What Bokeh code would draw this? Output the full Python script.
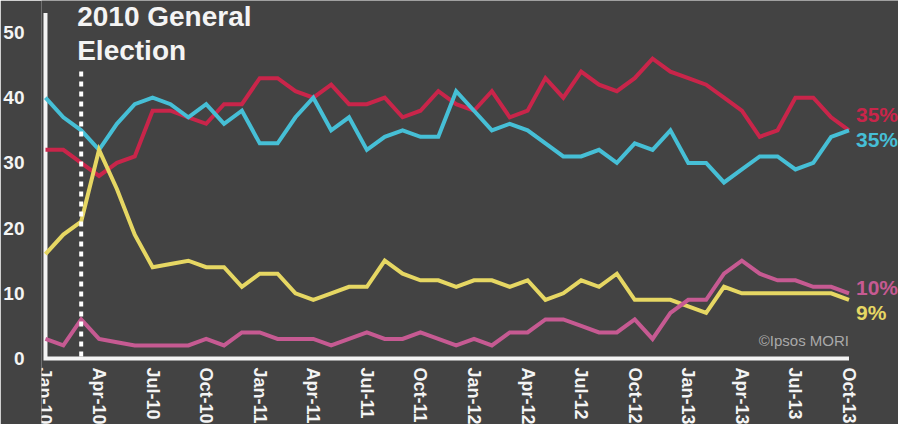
import math
from bokeh.plotting import figure
from bokeh.models import Range1d, FixedTicker, Label
from bokeh.core.properties import value
from bokeh.embed import file_html
from bokeh.resources import INLINE

# ---- data -------------------------------------------------------------
months = [
    "Jan-10", "Feb-10", "Mar-10", "Apr-10", "May-10", "Jun-10", "Jul-10", "Aug-10", "Sep-10", "Oct-10", "Nov-10", "Dec-10",
    "Jan-11", "Feb-11", "Mar-11", "Apr-11", "May-11", "Jun-11", "Jul-11", "Aug-11", "Sep-11", "Oct-11", "Nov-11", "Dec-11",
    "Jan-12", "Feb-12", "Mar-12", "Apr-12", "May-12", "Jun-12", "Jul-12", "Aug-12", "Sep-12", "Oct-12", "Nov-12", "Dec-12",
    "Jan-13", "Feb-13", "Mar-13", "Apr-13", "May-13", "Jun-13", "Jul-13", "Aug-13", "Sep-13", "Oct-13",
]
tick_labels = ["Jan-10", "Apr-10", "Jul-10", "Oct-10", "Jan-11", "Apr-11", "Jul-11", "Oct-11",
               "Jan-12", "Apr-12", "Jul-12", "Oct-12", "Jan-13", "Apr-13", "Jul-13", "Oct-13"]
y_ticks = [0, 10, 20, 30, 40, 50]

labour = [32, 32, 30, 28, 30, 31, 38, 38, 37, 36, 39, 39,
          43, 43, 41, 40, 42, 39, 39, 40, 37, 38, 41, 39,
          38, 41, 37, 38, 43, 40, 44, 42, 41, 43, 46, 44,
          43, 42, 40, 38, 34, 35, 40, 40, 37, 35]
conservative = [40, 37, 35, 32, 36, 39, 40, 39, 37, 39, 36, 38,
                33, 33, 37, 40, 35, 37, 32, 34, 35, 34, 34, 41,
                38, 35, 36, 35, 33, 31, 31, 32, 30, 33, 32, 35,
                30, 30, 27, 29, 31, 31, 29, 30, 34, 35]
libdem = [16, 19, 21, 32, 26, 19, 14, 14.5, 15, 14, 14, 11,
          13, 13, 10, 9, 10, 11, 11, 15, 13, 12, 12, 11,
          12, 12, 11, 12, 9, 10, 12, 11, 13, 9, 9, 9,
          8, 7, 11, 10, 10, 10, 10, 10, 10, 9]
ukip = [3, 2, 6, 3, 2.5, 2, 2, 2, 2, 3, 2, 4,
        4, 3, 3, 3, 2, 3, 4, 3, 3, 4, 3, 2,
        3, 2, 4, 4, 6, 6, 5, 4, 4, 6, 3, 7,
        9, 9, 13, 15, 13, 12, 12, 11, 11, 10]

election_month = "Mar-10"
title_lines = ["2010 General", "Election"]
credit = "\u00a9Ipsos MORI"

# ---- style ------------------------------------------------------------
BG = "#434343"
WHITE = "#f4f4f4"
RED = "#c9254a"
CYAN = "#46bfd6"
YELLOW = "#e6d763"
PINK = "#c65a92"
FONT = "Liberation Sans"

x = list(range(len(months)))
last = len(months) - 1

# frame: left edge at 36px, covers the rest of the canvas
PX_X = 17.96   # px per month
PX_Y = 6.52    # px per point
X0_PX = 4      # px from frame left to Jan-10
Y0_PX = 358    # px from top to value 0
W, H, LEFT = 898, 424, 36
x_start = -X0_PX / PX_X
x_end = x_start + (W - LEFT) / PX_X
y_end = Y0_PX / PX_Y
y_start = y_end - H / PX_Y

p = figure(width=W, height=H, output_backend="svg", toolbar_location=None,
           x_axis_location=None,
           x_range=Range1d(x_start, x_end), y_range=Range1d(y_start, y_end),
           min_border_left=LEFT, min_border_right=0, min_border_top=0, min_border_bottom=0)
p.background_fill_color = BG
p.border_fill_color = BG
p.outline_line_color = None
p.xgrid.visible = False
p.ygrid.visible = False

ax = p.yaxis[0]
ax.ticker = FixedTicker(ticks=y_ticks)
ax.axis_line_color = None
ax.major_tick_line_color = None
ax.minor_tick_line_color = None
ax.major_label_text_color = WHITE
ax.major_label_text_font = FONT
ax.major_label_text_font_style = "bold"
ax.major_label_text_font_size = "19px"
ax.major_label_standoff = 11

# axis lines (L shape)
AXIS_TOP = 53
p.line(x=[0, 0, last], y=[AXIS_TOP, 0, 0], line_color=WHITE, line_width=4, line_join="miter")

# x tick labels, read top-to-bottom
tick_x = [months.index(t) for t in tick_labels]
p.text(x=tick_x, y=[0] * len(tick_x), text=tick_labels, angle=-math.pi / 2,
       y_offset=9, text_align="left", text_baseline="middle",
       text_font=value(FONT), text_font_style="bold", text_font_size="18px",
       text_color=WHITE)

series = [(labour, RED), (conservative, CYAN), (libdem, YELLOW), (ukip, PINK)]
for vals, col in series:
    p.line(x, vals, line_color=col, line_width=4, line_join="miter")

# election marker
ei = months.index(election_month)
p.segment(x0=[ei], y0=[44], x1=[ei], y1=[0], line_color="white", line_width=4,
          line_dash="5 5", line_cap="butt")

# title (two lines)
for txt, yy in zip(title_lines, [52.4, 47.2]):
    p.add_layout(Label(x=ei, y=yy, x_offset=-4, text=txt, text_font=FONT,
                       text_font_style="bold", text_font_size="28px", text_color=WHITE,
                       text_align="left", text_baseline="middle"))

# end labels (labour, conservative, libdem, ukip)
end_offsets = [16, -9, -13, 6]
for (vals, col), off in zip(series, end_offsets):
    p.add_layout(Label(x=last, y=vals[-1], x_offset=7, y_offset=off,
                       text=f"{vals[-1]:.0f}%", text_font=FONT, text_font_style="bold",
                       text_font_size="21px", text_color=col, text_baseline="middle"))

# credit
p.add_layout(Label(x=last, y=0, y_offset=18, text=credit, text_font=FONT,
                   text_font_size="15px", text_color="#a9a9a9", text_align="right",
                   text_baseline="middle"))

open("out.html", "w").write(file_html(p, INLINE))
